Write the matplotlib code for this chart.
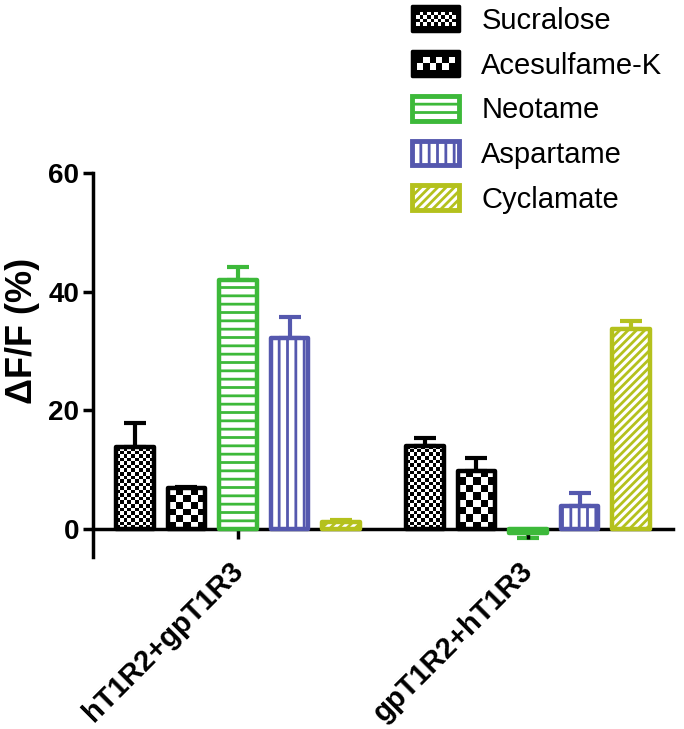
import numpy as np
import matplotlib
matplotlib.use("Agg")
import matplotlib.pyplot as plt
import matplotlib.transforms as mtransforms
from matplotlib.patches import Rectangle, Patch
from matplotlib.collections import PatchCollection
from matplotlib.legend_handler import HandlerBase

plt.rcParams['font.family'] = ['Liberation Sans', 'DejaVu Sans']
plt.rcParams['hatch.linewidth'] = 2.0

groups = ["hT1R2+gpT1R3", "gpT1R2+hT1R3"]
series = ["Sucralose", "Acesulfame-K", "Neotame", "Aspartame", "Cyclamate"]
means = {
    "Sucralose":    [13.8, 14.0],
    "Acesulfame-K": [6.9, 9.8],
    "Neotame":      [42.0, -0.6],
    "Aspartame":    [32.2, 3.9],
    "Cyclamate":    [1.2, 33.7],
}
errs = {
    "Sucralose":    [4.1, 1.3],
    "Acesulfame-K": [0.2, 2.2],
    "Neotame":      [2.2, 0.9],
    "Aspartame":    [3.6, 2.2],
    "Cyclamate":    [0.4, 1.4],
}
yticks = [0, 20, 40, 60]

colors = {"Sucralose": "black", "Acesulfame-K": "black", "Neotame": "#3db93a",
          "Aspartame": "#5558ae", "Cyclamate": "#b4c11d"}
hatches = {"Neotame": "--", "Aspartame": "||", "Cyclamate": "////"}
checker_px = {"Sucralose": 3.6, "Acesulfame-K": 7.0}
legend_checker_pt = {"Sucralose": 2.6, "Acesulfame-K": 4.6}

W, H = 684, 729
fig = plt.figure(figsize=(W / 100, H / 100), dpi=100)
ax = fig.add_axes([93 / W, 1 - 557 / H, 580 / W, 384 / H])
ax.set_xlim(-0.5, 1.5)
ax.set_ylim(-4.7, 60)

px_x = 580 / 2.0
px_y = 384 / 64.7

step = 0.1776
width = 0.128
xg = np.arange(len(groups))

for i, s in enumerate(series):
    xs = xg + (i - 2) * step
    col = colors[s]
    vals = np.array(means[s])
    e = np.array(errs[s])
    lower = np.where(vals < 0, e, 0)
    upper = np.where(vals >= 0, e, 0)
    ax.errorbar(xs, vals, yerr=[lower, upper], fmt='none', ecolor=col,
                elinewidth=3, capsize=8, capthick=3, zorder=1)
    bars = ax.bar(xs, vals, width=width, facecolor='white', edgecolor=col,
                  linewidth=3.2, hatch=hatches.get(s), zorder=3, label=s)
    for b in bars:
        b.set_joinstyle('round')
        b._hatch_color = matplotlib.colors.to_rgba(col)
    if s in checker_px:
        for b in bars:
            b.set_facecolor('none')
            x0 = b.get_x(); w = b.get_width()
            y0 = b.get_y(); h = b.get_height()
            nx = max(1, int(round(w * px_x / checker_px[s])))
            ny = max(1, int(round(abs(h) * px_y / checker_px[s])))
            arr = (np.add.outer(np.arange(ny), np.arange(nx)) % 2).astype(float)
            im = ax.imshow(arr, extent=[x0, x0 + w, y0, y0 + h], cmap='gray',
                           vmin=0, vmax=1, interpolation='nearest',
                           aspect='auto', origin='lower', zorder=2)
            im.set_clip_path(b)

ax.set_xlim(-0.5, 1.5)
ax.set_ylim(-4.7, 60)
ax.set_aspect('auto')

for sp in ['top', 'right']:
    ax.spines[sp].set_visible(False)
ax.spines['left'].set_linewidth(2.5)
ax.spines['bottom'].set_linewidth(2.5)
ax.spines['bottom'].set_position(('data', 0))
ax.set_yticks(yticks)
ax.set_yticklabels([str(t) for t in yticks], fontsize=20, fontweight='bold')
ax.tick_params(axis='y', length=7, width=2.5, pad=3)
ax.set_xticks(xg)
ax.set_xticklabels(groups, rotation=45, ha='right', rotation_mode='anchor',
                   fontsize=21, fontweight='bold')
ax.tick_params(axis='x', length=7, width=2.5, pad=13)
shift = mtransforms.ScaledTranslation(-6.5 / 72, 0, fig.dpi_scale_trans)
for lab in ax.get_xticklabels():
    lab.set_transform(lab.get_transform() + shift)
ax.set_ylabel("ΔF/F (%)", fontsize=26, fontweight='bold')
ax.yaxis.set_label_coords(-0.092, 0.59)


class HandlerChecker(HandlerBase):
    def __init__(self, sq):
        super().__init__()
        self.sq = sq

    def create_artists(self, legend, orig_handle, xdescent, ydescent,
                       width, height, fontsize, trans):
        x0, y0 = -xdescent, -ydescent
        frame = Rectangle((x0, y0), width, height, facecolor='black',
                          edgecolor='black', linewidth=2.5, joinstyle='round',
                          transform=trans)
        pad = 2.5
        sq = self.sq
        nx = max(1, int((width - 2 * pad) // sq))
        ny = max(1, int((height - 2 * pad) // sq))
        ox = x0 + (width - nx * sq) / 2
        oy = y0 + (height - ny * sq) / 2
        rects = []
        for r in range(ny):
            for c in range(nx):
                if (r + c) % 2 == 0:
                    rects.append(Rectangle((ox + c * sq, oy + r * sq), sq, sq))
        pc = PatchCollection(rects, facecolor='white', edgecolor='none',
                             transform=trans)
        return [frame, pc]


handles = []
handler_map = {}
for s in series:
    p = Patch(facecolor='white', edgecolor=colors[s], linewidth=3.5,
              hatch=hatches.get(s), label=s, joinstyle='round')
    p._hatch_color = matplotlib.colors.to_rgba(colors[s])
    handles.append(p)
    if s in legend_checker_pt:
        handler_map[p] = HandlerChecker(legend_checker_pt[s])

fs_leg = 21
fpx = fs_leg * 100 / 72
leg = fig.legend(handles=handles, labels=series, handler_map=handler_map,
                 loc='upper left', bbox_to_anchor=(406 / W, 1 - 0 / H),
                 frameon=False, fontsize=fs_leg, handlelength=47 / fpx,
                 handleheight=27 / fpx, handletextpad=22 / fpx,
                 labelspacing=0.56, borderaxespad=0.0, borderpad=0.22)

fig.savefig("out.png", dpi=100)
